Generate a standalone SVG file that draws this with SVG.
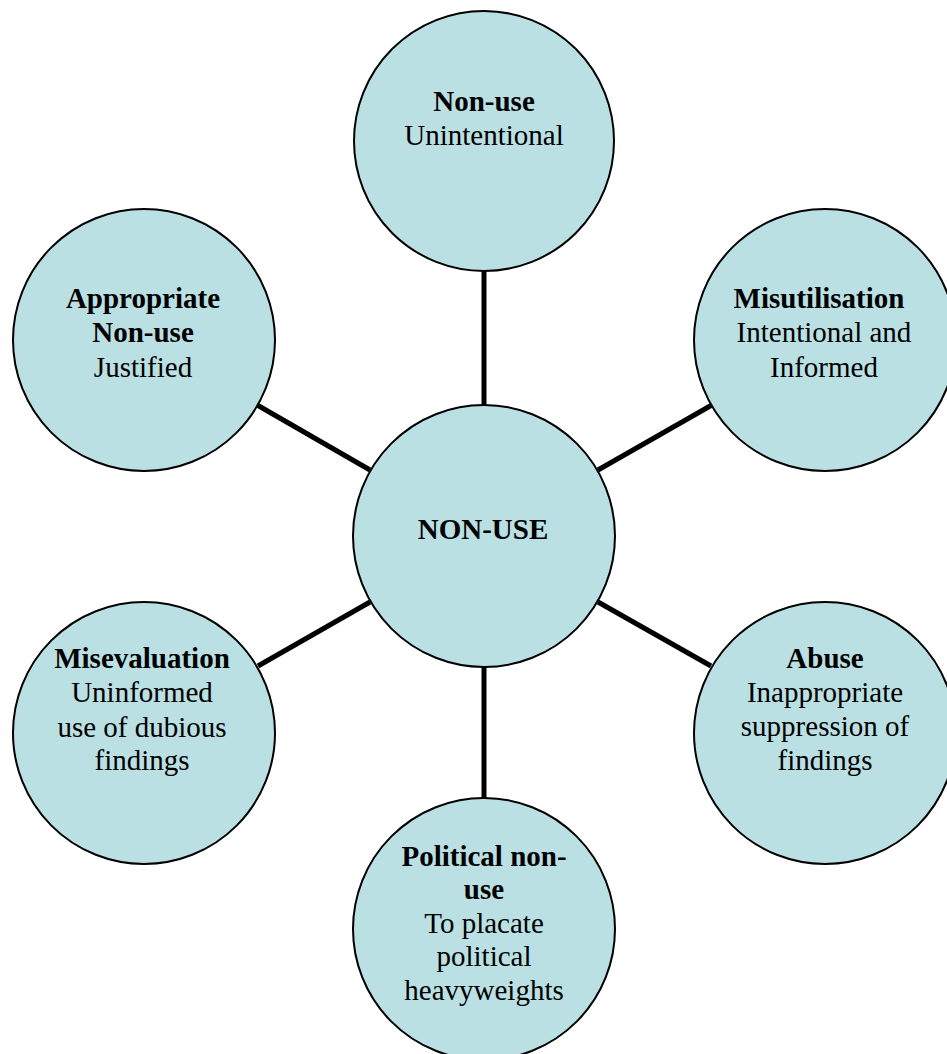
<svg xmlns="http://www.w3.org/2000/svg" width="947" height="1054" viewBox="0 0 947 1054">
<style>
.node{fill:#BAE0E3;stroke:#000;stroke-width:2}
.conn{stroke:#000;stroke-width:5;stroke-linecap:butt}
text{font-family:"Liberation Serif","Times New Roman",serif;font-size:29px;fill:#000;text-anchor:middle}
.b{font-weight:bold}
</style>
<rect width="947" height="1054" fill="#fff"/>
<g id="connectors">
<line class="conn" x1="484" y1="270" x2="484" y2="406"/>
<line class="conn" x1="484" y1="666" x2="484" y2="798"/>
<line class="conn" x1="258" y1="405.5" x2="370" y2="470"/>
<line class="conn" x1="711" y1="405.5" x2="598" y2="470"/>
<line class="conn" x1="258" y1="666" x2="370" y2="602"/>
<line class="conn" x1="711" y1="666" x2="598" y2="602"/>
</g>
<g id="node-top">
<circle class="node" cx="484" cy="141" r="130"/>
<text x="484" y="111" class="b">Non-use</text>
<text x="484" y="145">Unintentional</text>
</g>
<g id="node-upper-left">
<circle class="node" cx="144" cy="340" r="131"/>
<text x="143" y="308" class="b">Appropriate</text>
<text x="143" y="342" class="b">Non-use</text>
<text x="143" y="377">Justified</text>
</g>
<g id="node-upper-right">
<circle class="node" cx="825" cy="340" r="131"/>
<text x="819" y="308" class="b">Misutilisation</text>
<text x="824" y="342">Intentional and</text>
<text x="824" y="377">Informed</text>
</g>
<g id="node-center">
<circle class="node" cx="484" cy="536" r="131"/>
<text x="483" y="539" class="b">NON-USE</text>
</g>
<g id="node-lower-left">
<circle class="node" cx="144" cy="733" r="131"/>
<text x="142" y="668" class="b">Misevaluation</text>
<text x="142" y="702">Uninformed</text>
<text x="142" y="737">use of dubious</text>
<text x="142" y="770">findings</text>
</g>
<g id="node-lower-right">
<circle class="node" cx="825" cy="733" r="131"/>
<text x="825" y="668" class="b">Abuse</text>
<text x="825" y="702">Inappropriate</text>
<text x="825" y="736">suppression of</text>
<text x="825" y="770">findings</text>
</g>
<g id="node-bottom">
<circle class="node" cx="484" cy="929" r="131"/>
<text x="484" y="866" class="b">Political non-</text>
<text x="484" y="899" class="b">use</text>
<text x="484" y="933">To placate</text>
<text x="484" y="966">political</text>
<text x="484" y="1000">heavyweights</text>
</g>
</svg>
